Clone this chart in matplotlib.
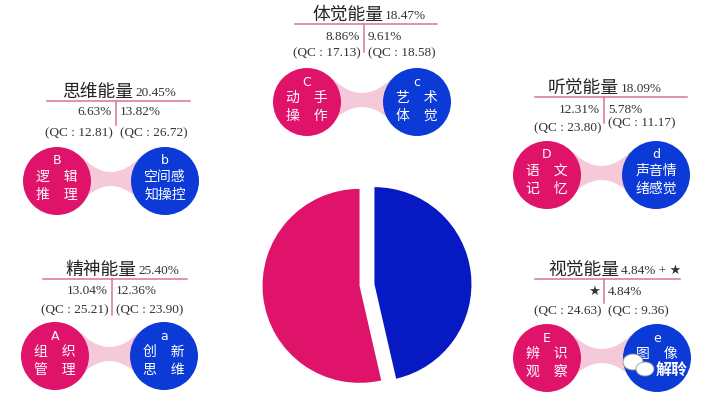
import numpy as np
import matplotlib
matplotlib.use("Agg")
import matplotlib.pyplot as plt
from matplotlib.patches import Circle, Ellipse, Polygon

# ---- data ----
groups = ["体觉能量", "思维能量", "听觉能量", "精神能量", "视觉能量"]
totals = ["18.47%", "20.45%", "18.09%", "25.40%", "4.84% + ★"]
left_vals = ["8.86%", "6.63%", "12.31%", "13.04%", "★"]
right_vals = ["9.61%", "13.82%", "5.78%", "12.36%", "4.84%"]
left_qc = ["17.13", "12.81", "23.80", "25.21", "24.63"]
right_qc = ["18.58", "26.72", "11.17", "23.90", "9.36"]
upper_letters = ["C", "B", "D", "A", "E"]
upper_words = [("动 手", "操 作"), ("逻 辑", "推 理"), ("语 文", "记 忆"),
               ("组 织", "管 理"), ("辨 识", "观 察")]
lower_letters = ["c", "b", "d", "a", "e"]
lower_words = [("艺 术", "体 觉"), ("空间感", "知操控"), ("声音情", "绪感觉"),
               ("创 新", "思 维"), ("图 像", "")]
lower_pct = [9.61, 13.82, 5.78, 12.36, 4.84]

blue_share = sum(lower_pct)
pie_values = [blue_share, 100 - blue_share]

# ---- layout (pixel coords, y down) ----
vx = [364, 116, 604, 112, 604]
uy = [24, 101, 97, 279, 279]
ux = [(295, 437), (47, 190), (535, 687), (43, 187), (535, 680)]
title_split = [384, 134, 620, 137, 620]
vbottom = [52, 125, 123, 315, 303]
val_dy = [13, 11, 13, 12, 13]
qc_dy = [(29, 29), (32, 32), (31, 26), (31, 31), (32, 32)]
circ = [(307, 417, 102), (57, 165, 181), (547, 656, 175),
        (55, 164, 356), (547, 657, 358)]
R = 34

PINK = "#E0136A"
BLUE = "#0C3AD6"
PIE_BLUE = "#0719C2"
LINE = "#D9739B"
BRIDGE = "#F5C9DA"
CJK = ["Noto Sans CJK SC", "DejaVu Sans"]
SERIF = ["Liberation Serif", "DejaVu Sans"]

fig = plt.figure(figsize=(7.13, 3.98), dpi=100)
ax = fig.add_axes([0, 0, 1, 1])
ax.set_xlim(0, 713)
ax.set_ylim(398, 0)
ax.axis("off")

for i in range(len(groups)):
    x0 = vx[i]
    y0 = uy[i]
    # title
    ax.text(title_split[i] - 1, y0 - 9, groups[i], family=CJK, fontsize=12.8,
            color="#222222", ha="right", va="center")
    ax.text(title_split[i] + 1, y0 - 8, totals[i], family=SERIF, fontsize=9.5,
            color="#333333", ha="left", va="center")
    ax.plot(ux[i], [y0, y0], color=LINE, lw=1.1)
    ax.plot([x0, x0], [y0, vbottom[i]], color=LINE, lw=1.1)
    # values
    ax.text(x0 - 4, y0 + val_dy[i], left_vals[i], family=SERIF, fontsize=9.5,
            color="#333333", ha="right", va="center")
    ax.text(x0 + 4, y0 + val_dy[i], right_vals[i], family=SERIF, fontsize=9.5,
            color="#333333", ha="left", va="center")
    ax.text(x0 - 3, y0 + qc_dy[i][0], "(QC : %s)" % left_qc[i], family=SERIF,
            fontsize=9.5, color="#333333", ha="right", va="center")
    ax.text(x0 + 4, y0 + qc_dy[i][1], "(QC : %s)" % right_qc[i], family=SERIF,
            fontsize=9.5, color="#333333", ha="left", va="center")

    # concave bridge between the two circles
    px, bx, cy = circ[i]
    xs = np.linspace(px + R - 8, bx - R + 8, 60)
    s = (xs - (px + bx) / 2) / ((bx - px) / 2 - R + 8)
    half = 7 + 14 * s ** 2
    yc = cy - 2
    poly = np.vstack([np.column_stack([xs, yc - half]),
                      np.column_stack([xs[::-1], (yc + half)[::-1]])])
    ax.add_patch(Polygon(poly, closed=True, color=BRIDGE, lw=0, zorder=1))

    ax.add_patch(Circle((px, cy), R, color=PINK, lw=0, zorder=2))
    ax.add_patch(Circle((bx, cy), R, color=BLUE, lw=0, zorder=2))

    for cx, letter, words in [(px, upper_letters[i], upper_words[i]),
                              (bx, lower_letters[i], lower_words[i])]:
        ax.text(cx, cy - 20, letter, family="DejaVu Sans", fontsize=9,
                color="white", ha="center", va="center", zorder=3)
        for k, dy in enumerate([-4, 14]):
            ax.text(cx, cy + dy, words[k].replace(" ", "\u3000"), family=CJK,
                    fontsize=10, color="white", ha="center", va="center",
                    zorder=3)

# watermark in the last blue circle
ax.add_patch(Ellipse((633, 362), 20, 16, facecolor="white",
                     edgecolor="#999999", lw=0.6, zorder=4))
ax.add_patch(Ellipse((645, 369), 18, 14, facecolor="white",
                     edgecolor="#999999", lw=0.6, zorder=4))
ax.text(672, 370, "解聆", family=CJK, fontsize=11.5, fontweight="bold",
        color="white", ha="center", va="center", zorder=5)

# ---- central pie ----
cx_pie, cy_pie, size = 367, 285, 240
pax = fig.add_axes([(cx_pie - size / 2) / 713, (398 - cy_pie - size / 2) / 398,
                    size / 713, size / 398])
pax.pie(pie_values, colors=[PIE_BLUE, PINK], startangle=90, counterclock=False,
        radius=0.97, explode=[0.075, 0.075],
        wedgeprops=dict(linewidth=0))
pax.set_xlim(-1.2, 1.2)
pax.set_ylim(-1.2, 1.2)
pax.set_aspect("equal")
pax.axis("off")

fig.savefig("out.png", dpi=100)
